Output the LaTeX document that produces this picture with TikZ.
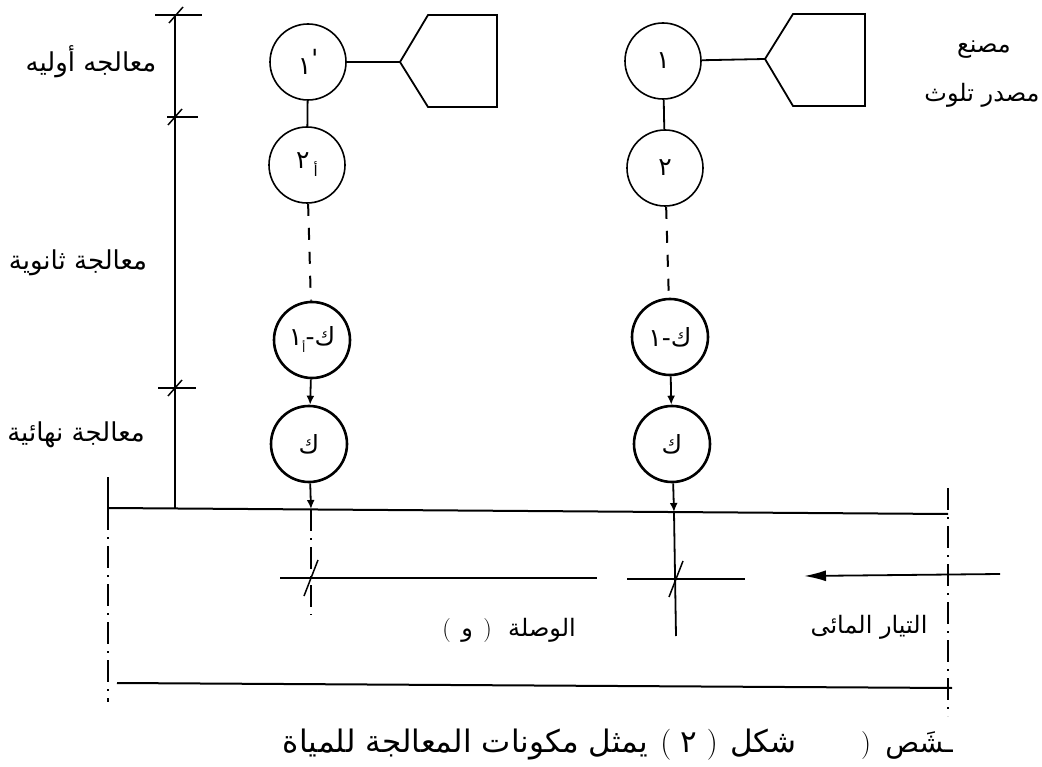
\documentclass[tikz,border=0pt]{standalone}
\usepackage{fontspec}
\newfontfamily\ar[Script=Arabic]{DejaVu Sans}
\TeXXeTstate=1
\usetikzlibrary{arrows.meta}

\begin{document}
\begin{tikzpicture}[x=1pt,y=-1pt,
  stage/.style={circle,draw,line width=1.6pt,minimum size=76pt,inner sep=0pt,
    font=\ar\fontsize{25}{27}\selectfont},
  heavy/.style={stage,line width=2.6pt},
  link/.style={line width=1.8pt},
  flow/.style={line width=1.8pt,-{Latex[length=9pt,width=8pt]}},
  dashlink/.style={line width=2pt,dash pattern=on 12pt off 12pt},
  axisline/.style={line width=1.6pt,dash pattern=on 22pt off 7pt on 2pt off 7pt},
  lbl/.style={font=\ar\fontsize{24}{26}\selectfont,inner sep=0pt},
  sidelbl/.style={font=\ar\fontsize{26}{28}\selectfont,inner sep=0pt},
  captext/.style={font=\ar\fontsize{31}{33}\selectfont,inner sep=0pt},
  tick/.style={line width=1.5pt}]
\useasboundingbox (0,0) rectangle (1042,767);

% treatment chain, right column
\node[stage] (r1) at (663,61) {١};
\node[stage] (r2) at (665,168) {٢};
\node[heavy] (rk1) at (670,337) {\hbox{١}\hbox{-}\hbox{ك}};
\node[heavy] (rk) at (672,444) {\hbox{ك}};

% treatment chain, left column
\node[stage] (l1) at (308,62) {\hbox{١}\raisebox{7pt}{\hbox{'}}};
\node[stage] (l2) at (307,165) {\hbox{٢}\,\raisebox{-8pt}{\fontsize{15}{15}\selectfont\hbox{أ}}};
\node[heavy] (lk1) at (312,340) {\hbox{١}\raisebox{-7pt}{\fontsize{12}{12}\selectfont\hbox{أ}}\hbox{-}\hbox{ك}};
\node[heavy] (lk) at (309,444) {\hbox{ك}};

% river bank and outfalls
\coordinate (bankL) at (108,508);
\coordinate (bankR) at (948,514);
\draw[line width=2pt] (bankL) -- (bankR);
\coordinate (rin) at (674,512);
\coordinate (lin) at (311,509);
\coordinate (rdown) at (676,636);
\coordinate (ldown) at (311,615);

\draw[link] (r1) -- (r2);
\draw[dashlink] (r2) -- (rk1);
\draw[flow] (rk1) -- (rk);
\draw[flow] (rk) -- (rin);
\draw[link] (rin) -- (rdown);

\draw[link] (l1) -- (l2);
\draw[dashlink] (l2) -- (lk1);
\draw[flow] (lk1) -- (lk);
\draw[flow] (lk) -- (lin);
\draw[axisline] (lin) -- (ldown);

% factories (pollution sources)
\coordinate (rapex) at (765,59);
\draw[link] (r1) -- (rapex);
\draw[line width=1.8pt] (rapex) -- (793,14) -- (865,14);
\draw[line width=1.8pt] (rapex) -- (793,106) -- (865,106);
\draw[line width=2.8pt] (865,13) -- (865,107);

\coordinate (lapex) at (400,62);
\draw[link] (l1) -- (lapex);
\draw[line width=1.8pt] (lapex) -- (428,15) -- (497,15);
\draw[line width=1.8pt] (lapex) -- (428,107) -- (497,107);
\draw[line width=2.6pt] (497,14) -- (497,108);

% vertical dimension line of treatment stages
\coordinate (dimTop) at (175,15);
\coordinate (dimBot) at (175,508);
\draw[line width=1.8pt] (dimTop) -- (dimBot);
\draw[tick] (155,15) -- (202,15);
\draw[tick] (169,23) -- (183,7);
\draw[tick] (167,117) -- (198,117);
\draw[tick] (168,125) -- (182,109);
\draw[tick] (158,388) -- (196,388);
\draw[tick] (168,396) -- (182,380);

% river edges
\draw[line width=1.6pt] (108,477) -- (bankL);
\draw[axisline] (bankL) -- (108,702);
\draw[axisline] (948,488) -- (948,716);
\draw[line width=2pt] (117,683) -- (952,688);

% mixing-zone dimension
\draw[tick] (280,578) -- (597,578);
\draw[tick] (627,579) -- (745,579);
\draw[tick] (304,596) -- (318,560);
\draw[tick] (669,597) -- (683,561);

% current direction
\coordinate (curA) at (1000,574);
\coordinate (curB) at (804,576);
\draw[line width=1.8pt,-{Latex[length=22pt,width=11pt]}] (curA) -- (curB);

% stage labels
\node[sidelbl] (t1) at (91,62) {\ar\beginR معالجه أوليه\endR};
\node[sidelbl] (t2) at (78,263) {\ar\beginR معالجة ثانوية\endR};
\node[sidelbl] (t3) at (76,435) {\ar\beginR معالجة نهائية\endR};
\node[lbl] (t4) at (984,50) {\ar\beginR مصنع\endR};
\node[lbl] (t5) at (982,95) {\ar\beginR مصدر تلوث\endR};
\node[lbl] (t7) at (869,627) {\ar\beginR التيار المائى\endR};

% mixing-zone label, set piece by piece from right to left
\node[lbl,anchor=base east] (m1) at (576,636) {\ar الوصلة};
\node[lbl,anchor=base east] (m2) at ([xshift=-16pt]m1.base west) {\rmfamily )};
\node[lbl,anchor=base east] (m3) at ([xshift=-10pt]m2.base west) {\ar و};
\node[lbl,anchor=base east] (m4) at ([xshift=-10pt]m3.base west) {\rmfamily (};

% figure caption, set piece by piece from right to left
\node[captext,anchor=base east] (c1) at (797,752) {\ar شكل};
\node[captext,anchor=base east] (c2) at ([xshift=-12pt]c1.base west) {\rmfamily )};
\node[captext,anchor=base east] (c3) at ([xshift=-9pt]c2.base west) {\ar ٢};
\node[captext,anchor=base east] (c4) at ([xshift=-9pt]c3.base west) {\rmfamily (};
\node[captext,anchor=base east] (c5) at ([xshift=-12pt]c4.base west) {\ar\beginR يمثل مكونات المعالجة للمياة\endR};

\node[captext,font=\ar\fontsize{28}{30}\selectfont,anchor=base east] (s1) at (953,752) {\ar\beginR ـشَص\endR};
\node[captext,font=\ar\fontsize{28}{30}\selectfont,anchor=base] (s2) at (866,752) {\rmfamily )};
\end{tikzpicture}
\end{document}
